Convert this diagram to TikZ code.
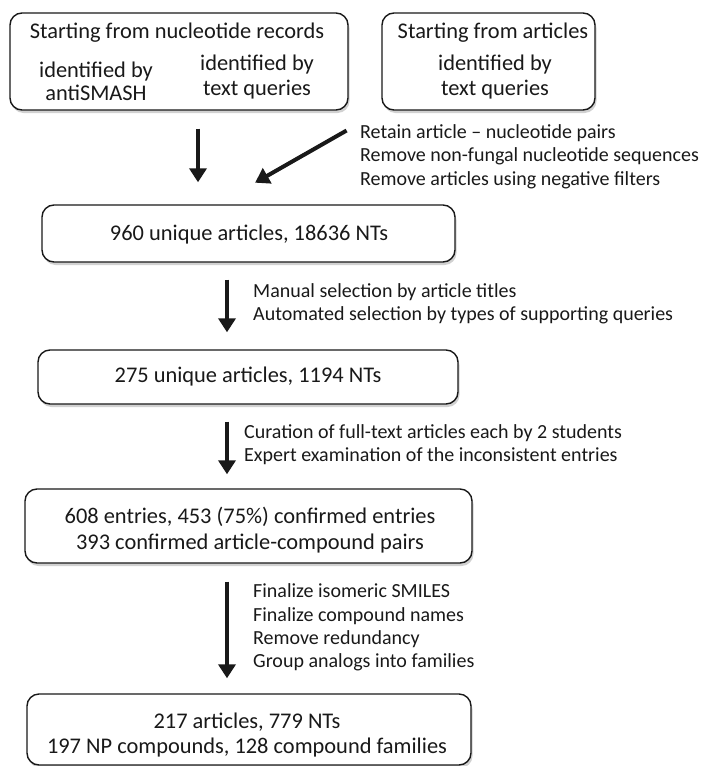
\documentclass[tikz,border=0pt]{standalone}
\usepackage{fontspec}
\setmainfont{Carlito}
\usetikzlibrary{arrows.meta,shadows,calc}
\begin{document}
\begin{tikzpicture}[x=1pt,y=-1pt,
  box/.style={draw=black!90, line width=1.4pt, rounded corners=12pt, fill=white,
    inner sep=0pt,
    drop shadow={shadow xshift=1.5pt, shadow yshift=-3pt, opacity=0.18, fill=black}},
  txt/.style={font=\fontsize{22.4}{24}\selectfont, inner sep=0pt, text=black!90},
  note/.style={inner sep=0pt, text=black!90, align=left, anchor=west},
  flow/.style={-{Triangle[width=17pt,length=14pt]}, line width=4pt, draw=black!90}]
\useasboundingbox (0,0) rectangle (702,766);

% boxes
\node[box, minimum width=338pt, minimum height=97pt] (box1) at (179,61.5) {};
\node[box, minimum width=213pt, minimum height=97pt] (box2) at (488.5,61.5) {};
\node[box, minimum width=413pt, minimum height=57pt] (box3) at (248.5,233.5) {};
\node[box, minimum width=420pt, minimum height=54pt] (box4) at (248,377) {};
\node[box, minimum width=447pt, minimum height=74pt] (box5) at (248.5,526) {};
\node[box, minimum width=444pt, minimum height=71pt] (box6) at (249,729.5) {};

% box texts
\node[txt] (t1) at (177,33) {Starting from nucleotide records};
\node[txt, align=center, font=\fontsize{22.4}{23}\selectfont] (t1a) at (96,81.5) {identified by\\antiSMASH};
\node[txt, align=center, font=\fontsize{22.4}{25}\selectfont] (t1b) at (257,77.5) {identified by\\text queries};
\node[txt] (t2) at (493,33) {Starting from articles};
\node[txt, align=center, font=\fontsize{22.4}{25}\selectfont] (t2a) at (495,77.5) {identified by\\text queries};
\node[txt] (t3) at (249,235) {960 unique articles, 18636 NTs};
\node[txt] (t4) at (248,377) {275 unique articles, 1194 NTs};
\node[txt, align=center, font=\fontsize{22.4}{26}\selectfont] (t5) at (250,530) {608 entries, 453 (75\%) confirmed entries\\393 confirmed article-compound pairs};
\node[txt, align=center, font=\fontsize{22.4}{25}\selectfont] (t6) at (247,735.5) {217 articles, 779 NTs\\197 NP compounds, 128 compound families};

% side notes
\node[note, font=\fontsize{20}{23.5}\selectfont] (n1) at (360,156.7)
  {Retain article – nucleotide pairs\\Remove non-fungal nucleotide sequences\\Remove articles using negative filters};
\node[note, font=\fontsize{20}{23}\selectfont] (n2) at (253,303.5)
  {Manual selection by article titles\\Automated selection by types of supporting queries};
\node[note, font=\fontsize{20}{23}\selectfont] (n3) at (244,444.5)
  {Curation of full-text articles each by 2 students\\Expert examination of the inconsistent entries};
\node[note, font=\fontsize{20}{23.3}\selectfont] (n4) at (253,627.5)
  {Finalize isomeric SMILES\\Finalize compound names\\Remove redundancy\\Group analogs into families};

% connectors
\coordinate (c1) at (198,0);
\coordinate (c2) at (227,0);
\coordinate (d2) at (216,205);
\draw[flow, shorten <=18pt, shorten >=22pt] (box1.south -| c1) -- (box3.north -| c1);
\draw[flow, shorten <=40pt, shorten >=45pt] (box2.south west) -- (d2);
\draw[flow, shorten <=17pt, shorten >=17pt] (box3.south -| c2) -- (box4.north -| c2);
\draw[flow, shorten <=17pt, shorten >=14pt] (box4.south -| c2) -- (box5.north -| c2);
\draw[flow, shorten <=18pt, shorten >=15pt] (box5.south -| c2) -- (box6.north -| c2);
\end{tikzpicture}
\end{document}
